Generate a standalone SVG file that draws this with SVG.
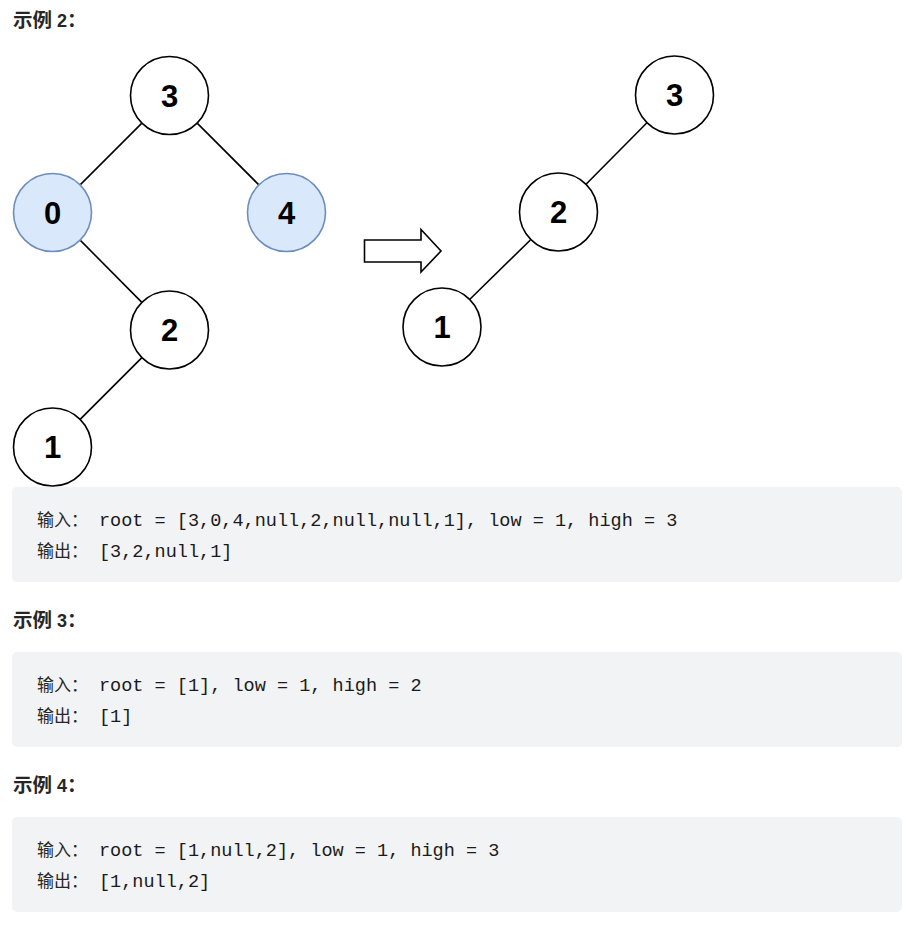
<svg xmlns="http://www.w3.org/2000/svg" width="915" height="926" viewBox="0 0 915 926">
<style>
.h{font-family:"Liberation Sans","Noto Sans CJK SC",sans-serif;font-weight:bold;fill:#262626}
.hz{font-size:19.5px}
.hd{font-size:18px}
.blk{fill:#f2f3f5}
.cjk{font-family:"Noto Sans CJK SC",sans-serif;font-size:17px;fill:#262626}
.code{font-family:"Liberation Mono",monospace;font-size:18.55px;fill:#1a1a1a}
.n circle{fill:#fff;stroke:#000;stroke-width:1.6}
.n.b circle{fill:#dae8fc;stroke:#6c8ebf}
.n text{font-family:"Liberation Sans",Arial,sans-serif;font-weight:bold;font-size:31px;text-anchor:middle;fill:#000}
.e line{stroke:#000;stroke-width:1.6}
</style>
<rect width="915" height="926" fill="#fff"/>

<text class="h" x="13" y="27"><tspan class="hz">示例</tspan><tspan class="hd"> 2</tspan><tspan class="hz">：</tspan></text>

<g id="edges" class="e">
<line x1="141.6" y1="123.4" x2="80.4" y2="184.6"/>
<line x1="197.4" y1="123.4" x2="258.6" y2="184.6"/>
<line x1="80.4" y1="240.4" x2="141.6" y2="302.1"/>
<line x1="141.6" y1="357.9" x2="80.4" y2="419.1"/>
<line x1="646.7" y1="123" x2="586.3" y2="184"/>
<line x1="530.4" y1="240" x2="469.9" y2="299.2"/>
</g>

<g id="t1-n3" class="n"><circle cx="169.5" cy="95.5" r="39"/><text x="169.5" y="106.8">3</text></g>
<g id="t1-n0" class="n b"><circle cx="52.5" cy="212.5" r="39"/><text x="52.5" y="223.8">0</text></g>
<g id="t1-n4" class="n b"><circle cx="286.5" cy="212.5" r="39"/><text x="286.5" y="223.8">4</text></g>
<g id="t1-n2" class="n"><circle cx="169.5" cy="330" r="39"/><text x="169.5" y="341.3">2</text></g>
<g id="t1-n1" class="n"><circle cx="52.5" cy="447" r="39"/><text x="52.5" y="458.3">1</text></g>

<g id="arrow"><polygon points="364.5,240 421,240 421,229.5 441,251 421,272 421,262 364.5,262" fill="#fff" stroke="#000" stroke-width="1.6"/></g>

<g id="t2-n3" class="n"><circle cx="674.5" cy="95" r="39"/><text x="674.5" y="106.3">3</text></g>
<g id="t2-n2" class="n"><circle cx="558.5" cy="212" r="39"/><text x="558.5" y="223.3">2</text></g>
<g id="t2-n1" class="n"><circle cx="442" cy="327" r="39"/><text x="442" y="338.3">1</text></g>

<rect class="blk" x="12" y="487" width="890" height="95" rx="5"/>
<text class="cjk" x="37" y="526">输入：</text><text class="code" x="99" y="526">root = [3,0,4,null,2,null,null,1], low = 1, high = 3</text>
<text class="cjk" x="37" y="557">输出：</text><text class="code" x="99" y="557">[3,2,null,1]</text>

<text class="h" x="13" y="627"><tspan class="hz">示例</tspan><tspan class="hd"> 3</tspan><tspan class="hz">：</tspan></text>
<rect class="blk" x="12" y="652" width="890" height="95" rx="5"/>
<text class="cjk" x="37" y="691">输入：</text><text class="code" x="99" y="691">root = [1], low = 1, high = 2</text>
<text class="cjk" x="37" y="722">输出：</text><text class="code" x="99" y="722">[1]</text>

<text class="h" x="13" y="792"><tspan class="hz">示例</tspan><tspan class="hd"> 4</tspan><tspan class="hz">：</tspan></text>
<rect class="blk" x="12" y="817" width="890" height="95" rx="5"/>
<text class="cjk" x="37" y="856">输入：</text><text class="code" x="99" y="856">root = [1,null,2], low = 1, high = 3</text>
<text class="cjk" x="37" y="887">输出：</text><text class="code" x="99" y="887">[1,null,2]</text>
</svg>
